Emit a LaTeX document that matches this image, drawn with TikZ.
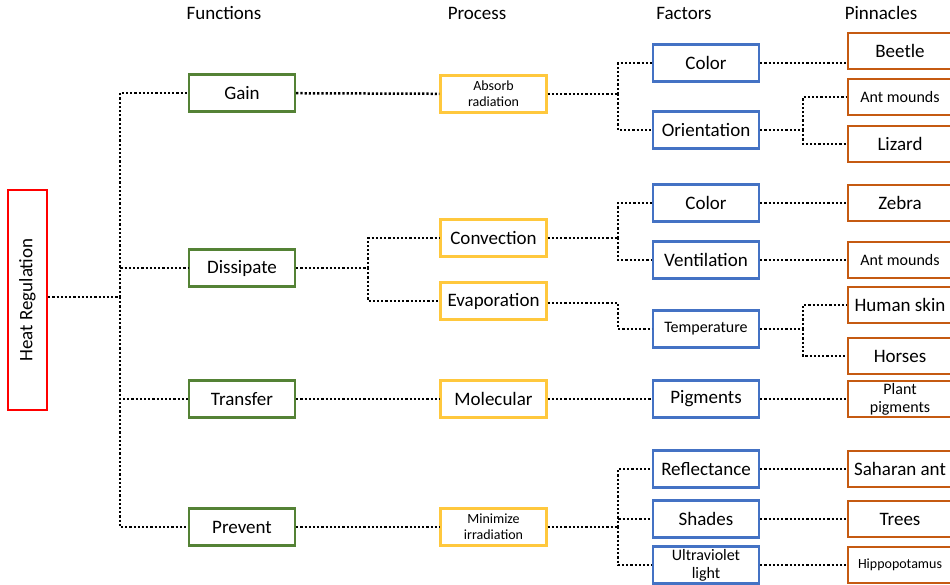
\documentclass[tikz,border=0pt]{standalone}
\usepackage{fontspec}
\setmainfont{Carlito}
\definecolor{rootred}{HTML}{FF0000}
\definecolor{funcgreen}{HTML}{548235}
\definecolor{procyellow}{HTML}{FFC83D}
\definecolor{factblue}{HTML}{4472C4}
\definecolor{pinorange}{HTML}{C55A11}
\newcommand{\lbl}{\fontsize{19}{19}\selectfont}
\newcommand{\medtxt}{\fontsize{16}{18}\selectfont}
\newcommand{\sml}{\fontsize{14}{16}\selectfont}

\begin{document}
\begin{tikzpicture}[x=1pt,y=-1pt,
    box/.style={draw,line width=2.3pt,fill=white,minimum width=106pt,minimum height=37pt,inner sep=1pt,align=center,font=\lbl},
    pin/.style={box,draw=pinorange,minimum width=104pt,minimum height=36pt},
    link/.style={line width=2.5pt,dash pattern=on 2.2pt off 2pt}]
    \useasboundingbox (0,0) rectangle (950,584);
%    headers
    \node (hfun) at (224,13) [font=\lbl] {Functions};
    \node (hpro) at (477,13) [font=\lbl] {Process};
    \node (hfac) at (684,13) [font=\lbl] {Factors};
    \node (hpin) at (881,13) [font=\lbl] {Pinnacles};
%    root
    \node (root) at (27.5,300) [box,draw=rootred,minimum width=220pt,minimum height=39pt,rotate=90] {Heat Regulation};
%    functions
    \node (gain) at (242,93) [box,draw=funcgreen] {Gain};
    \node (diss) at (242,268) [box,draw=funcgreen] {Dissipate};
    \node (tran) at (242,399) [box,draw=funcgreen] {Transfer};
    \node (prev) at (242,527) [box,draw=funcgreen] {Prevent};
%    process
    \node (absr) at (493.5,94) [box,draw=procyellow,font=\sml] {Absorb\\radiation};
    \node (conv) at (493.5,238) [box,draw=procyellow] {Convection};
    \node (evap) at (493.5,301) [box,draw=procyellow] {Evaporation};
    \node (mole) at (493.5,399) [box,draw=procyellow] {Molecular};
    \node (mini) at (493.5,527) [box,draw=procyellow,font=\sml] {Minimize\\irradiation};
%    factors
    \node (colA) at (706,63) [box,draw=factblue] {Color};
    \node (orie) at (706,130) [box,draw=factblue] {Orientation};
    \node (colB) at (706,203) [box,draw=factblue] {Color};
    \node (vent) at (706,260) [box,draw=factblue] {Ventilation};
    \node (temp) at (706,329) [box,draw=factblue,font=\medtxt] {Temperature};
    \node (pigm) at (706,399) [box,draw=factblue] {Pigments};
    \node (refl) at (706,469) [box,draw=factblue] {Reflectance};
    \node (shad) at (706,519) [box,draw=factblue] {Shades};
    \node (ultr) at (706,565) [box,draw=factblue,font=\medtxt] {Ultraviolet\\light};
%    pinnacles
    \node (beet) at (900,51) [pin] {Beetle};
    \node (antA) at (900,97) [pin,font=\medtxt] {Ant mounds};
    \node (liza) at (900,144) [pin] {Lizard};
    \node (zebr) at (900,203) [pin] {Zebra};
    \node (antB) at (900,260) [pin,font=\medtxt] {Ant mounds};
    \node (huma) at (900,305) [pin] {Human skin};
    \node (hors) at (900,356) [pin] {Horses};
    \node (plan) at (900,399) [pin,font=\medtxt] {Plant\\pigments};
    \node (saha) at (900,469) [pin] {Saharan ant};
    \node (tree) at (900,519) [pin] {Trees};
    \node (hipp) at (900,565) [pin,font=\sml] {Hippopotamus};
%    junctions
    \coordinate (jroot) at (120,297);
    \coordinate (jdiss) at (368,268);
    \coordinate (jabs) at (618,94);
    \coordinate (jcon) at (618,238);
    \coordinate (jeva) at (618,303);
    \coordinate (jmin) at (618,527);
    \coordinate (jori) at (803,130);
    \coordinate (jtem) at (803,329);
%    connectors
    \draw[link] (root.south |- jroot) -- (jroot);
    \draw[link] (jroot) |- (gain);
    \draw[link] (jroot) |- (diss);
    \draw[link] (jroot) |- (tran);
    \draw[link] (jroot) |- (prev);
    \draw[link] (gain) -- (absr);
    \draw[link] (diss) -- (jdiss);
    \draw[link] (jdiss) |- (conv);
    \draw[link] (jdiss) |- (evap);
    \draw[link] (tran) -- (mole);
    \draw[link] (prev) -- (mini);
    \draw[link] (absr) -- (jabs);
    \draw[link] (jabs) |- (colA);
    \draw[link] (jabs) |- (orie);
    \draw[link] (conv) -- (jcon);
    \draw[link] (jcon) |- (colB);
    \draw[link] (jcon) |- (vent);
    \draw[link] (evap.east |- jeva) -- (jeva) |- (temp);
    \draw[link] (mole) -- (pigm);
    \draw[link] (mini) -- (jmin);
    \draw[link] (jmin) |- (refl);
    \draw[link] (jmin) |- (shad);
    \draw[link] (jmin) |- (ultr);
    \draw[link] (colA) -- (beet.west |- colA);
    \draw[link] (orie) -- (jori);
    \draw[link] (jori) |- (antA);
    \draw[link] (jori) |- (liza);
    \draw[link] (colB) -- (zebr);
    \draw[link] (vent) -- (antB);
    \draw[link] (temp) -- (jtem);
    \draw[link] (jtem) |- (huma);
    \draw[link] (jtem) |- (hors);
    \draw[link] (pigm) -- (plan);
    \draw[link] (refl) -- (saha);
    \draw[link] (shad) -- (tree);
    \draw[link] (ultr) -- (hipp);
  \end{tikzpicture}
\end{document}
